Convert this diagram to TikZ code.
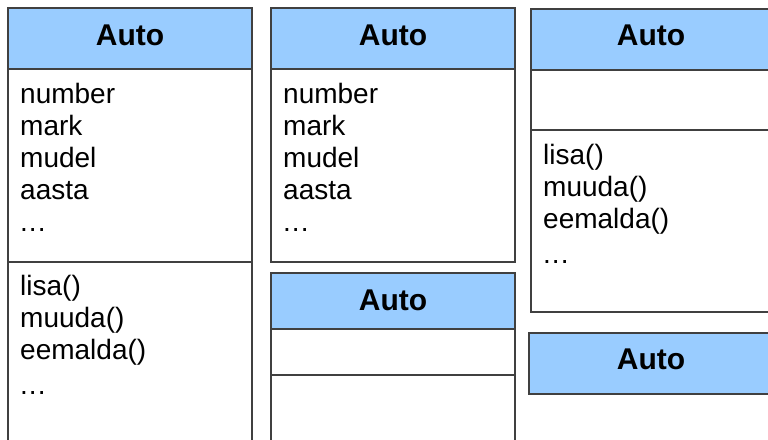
\documentclass[tikz,border=0pt]{standalone}
\usepackage{fontspec}
\setmainfont{Liberation Sans}
\definecolor{headblue}{RGB}{153,204,255}
\definecolor{linegray}{RGB}{64,64,64}
\begin{document}
\begin{tikzpicture}[x=1pt,y=-1pt,
  frame/.style={draw=linegray, line width=1.4pt},
  head/.style={frame, fill=headblue},
  title/.style={font=\fontsize{30}{30}\selectfont\bfseries, anchor=base, inner sep=0pt},
  entry/.style={font=\fontsize{28}{28}\selectfont, anchor=base west, inner sep=0pt}]
\useasboundingbox (0,0) rectangle (768,439);
\clip (0,0) rectangle (768,439);

% class with attributes and methods
\draw[head]  (8,8)   rectangle (252,69);
\draw[frame] (8,69)  rectangle (252,262);
\draw[frame] (8,262) rectangle (252,470);
\node[title] (t1) at (130,45) {Auto};
\foreach \txt [count=\i] in {number,mark,mudel,aasta}
  \node[entry] (a1\i) at (20,{71+32*\i}) {\txt};
\node[entry] (a1dots) at (20,231) {.\kern1pt.\kern1pt.};
\foreach \txt [count=\i] in {lisa(),muuda(),eemalda()}
  \node[entry] (m1\i) at (20,{263+32*\i}) {\txt};
\node[entry] (m1dots) at (20,394) {.\kern1pt.\kern1pt.};

% attributes only
\draw[head]  (271,8)  rectangle (515,69);
\draw[frame] (271,69) rectangle (515,262);
\node[title] (t2) at (393,45) {Auto};
\foreach \txt [count=\i] in {number,mark,mudel,aasta}
  \node[entry] (a2\i) at (283,{71+32*\i}) {\txt};
\node[entry] (a2dots) at (283,231) {.\kern1pt.\kern1pt.};

% empty compartments
\draw[head]  (271,273) rectangle (515,329);
\draw[frame] (271,329) rectangle (515,375);
\draw[frame] (271,375) rectangle (515,470);
\node[title] (t3) at (393,310) {Auto};

% methods only
\draw[head]  (531,9)   rectangle (780,70);
\draw[frame] (531,70)  rectangle (780,130);
\draw[frame] (531,130) rectangle (780,312);
\node[title] (t4) at (651,45) {Auto};
\foreach \txt [count=\i] in {lisa(),muuda(),eemalda()}
  \node[entry] (m4\i) at (543,{132+32*\i}) {\txt};
\node[entry] (m4dots) at (543,263) {.\kern1pt.\kern1pt.};

% name only
\draw[head]  (529,333) rectangle (780,394);
\node[title] (t5) at (651,369) {Auto};
\end{tikzpicture}
\end{document}
